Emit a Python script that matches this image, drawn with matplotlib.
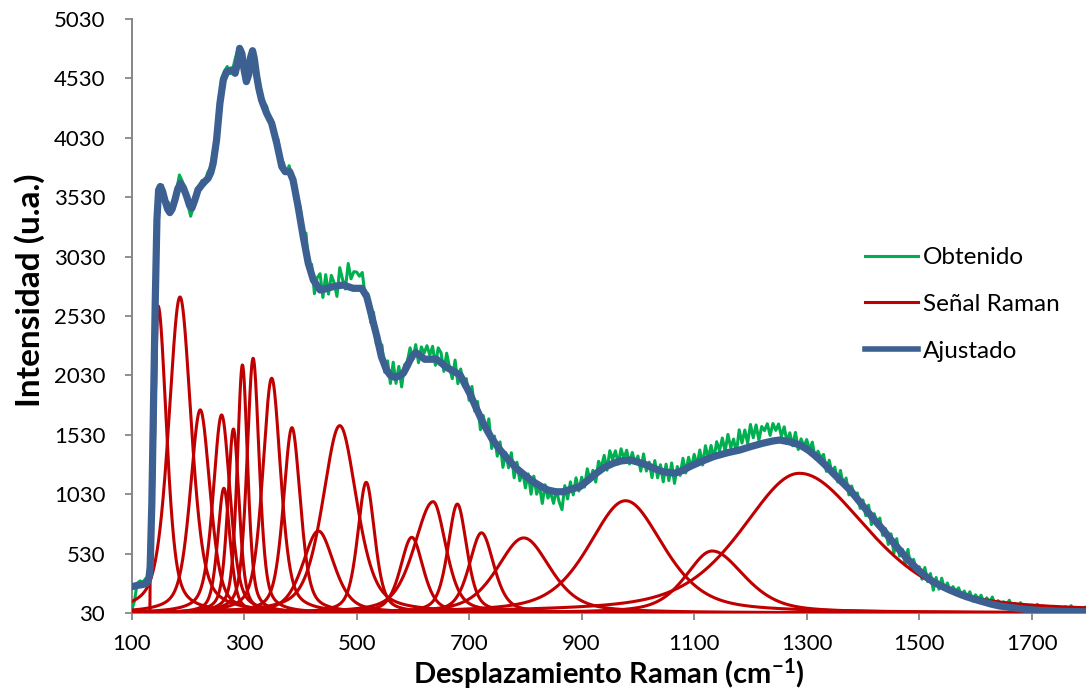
import numpy as np
import matplotlib
matplotlib.use("Agg")
import matplotlib.pyplot as plt
from matplotlib.lines import Line2D

plt.rcParams['font.family'] = ['Lato', 'DejaVu Sans']
plt.rcParams['mathtext.fontset'] = 'custom'
plt.rcParams['mathtext.rm'] = 'Lato:bold'
plt.rcParams['mathtext.it'] = 'Lato:bold'
plt.rcParams['mathtext.bf'] = 'Lato:bold'
plt.rcParams['mathtext.default'] = 'rm'

# ---------------- data ----------------
baseline = 30

# fitted spectrum (Ajustado)
fit_x = [100, 110, 120, 127, 131, 133, 136, 139, 142, 145, 148, 151, 155, 159, 164,
         168, 172, 177, 182, 187, 192, 198, 203, 207, 212, 218, 227, 236, 241, 245,
         251, 257, 263, 269, 278, 284, 288, 292, 296, 300, 304, 308, 311, 315, 318,
         322, 326, 331, 340, 349, 358, 367, 373, 381, 387, 396, 405, 414, 423, 435,
         446, 458, 476, 494, 509, 518, 527, 536, 544, 553, 560, 568, 576, 583, 590,
         595, 600, 605, 612, 621, 642, 660, 672, 684, 692, 701, 713, 725, 740, 755,
         770, 784, 800, 814, 826, 840, 855, 867, 880, 897, 912, 926, 940, 956, 970,
         986, 1000, 1015, 1030, 1045, 1065, 1080, 1092, 1110, 1134, 1160, 1181, 1200,
         1222, 1240, 1252, 1270, 1288, 1303, 1317, 1332, 1347, 1362, 1377, 1394, 1406,
         1420, 1436, 1450, 1465, 1480, 1495, 1510, 1524, 1540, 1554, 1570, 1584, 1600,
         1613, 1628, 1643, 1660, 1673, 1690, 1702, 1720, 1732, 1760, 1790, 1800]
fit_y = [251, 262, 270, 280, 330, 420, 960, 1800, 2640, 3340, 3590, 3620, 3580, 3507, 3430,
         3400, 3430, 3507, 3600, 3647, 3610, 3535, 3460, 3437, 3500, 3591, 3647, 3689, 3740, 3815,
         4012, 4321, 4517, 4587, 4601, 4573, 4650, 4783, 4740, 4600, 4503, 4560, 4700, 4763, 4700,
         4559, 4450, 4348, 4237, 4152, 3984, 3787, 3745, 3745, 3675, 3450, 3198, 2974, 2833, 2749,
         2760, 2777, 2791, 2763, 2763, 2693, 2524, 2356, 2188, 2076, 2030, 2014, 2025, 2048, 2110,
         2160, 2200, 2221, 2200, 2166, 2166, 2098, 2065, 2033, 1960, 1879, 1750, 1627, 1500, 1402,
         1320, 1248, 1185, 1135, 1100, 1065, 1050, 1051, 1070, 1093, 1150, 1206, 1255, 1290, 1310,
         1318, 1300, 1276, 1245, 1219, 1206, 1230, 1262, 1300, 1346, 1380, 1402, 1430,
         1459, 1478, 1486, 1470, 1444, 1400, 1346, 1280, 1206, 1135, 1065, 967, 897,
         815, 729, 645, 560, 480, 406, 345, 294, 255, 224, 192, 167, 143,
         125, 105, 89, 78, 70, 60, 55, 50, 47, 43, 41, 40]

# measured spectrum (Obtenido), sampled every 5 cm-1 from 100 to 1800
obs_x = np.arange(100, 1801, 5)
obs_y = [50, 130, 280, 300, 290, 320, 340, 700, 2300, 3300,
         3570, 3630, 3480, 3490, 3420, 3440, 3590, 3717, 3665, 3590,
         3470, 3370, 3450, 3600, 3620, 3670, 3635, 3735, 3780, 3895,
         4040, 4270, 4530, 4590, 4630, 4570, 4615, 4710, 4790, 4780,
         4630, 4490, 4690, 4740, 4670, 4540, 4410, 4320, 4297, 4185,
         4180, 4020, 4020, 3850, 3820, 3735, 3795, 3700, 3650, 3515,
         3442, 3147, 3228, 2926, 2965, 2718, 2853, 2886, 2686, 2878,
         2714, 2872, 2810, 2695, 2937, 2839, 2757, 2972, 2843, 2903,
         2900, 2865, 2896, 2706, 2718, 2475, 2562, 2292, 2311, 2284,
         2056, 2152, 1962, 2141, 1963, 2106, 1933, 2118, 2144, 2262,
         2166, 2289, 2137, 2270, 2217, 2280, 2200, 2275, 2115, 2262,
         2220, 2064, 2217, 2102, 2002, 2159, 1960, 2084, 1939, 2003,
         1820, 1937, 1729, 1810, 1573, 1693, 1551, 1664, 1415, 1519,
         1350, 1470, 1256, 1381, 1252, 1379, 1168, 1299, 1143, 1222,
         1083, 1201, 1030, 1182, 1030, 1100, 952, 1109, 997, 1043,
         953, 1067, 965, 900, 1102, 990, 1134, 1024, 1168, 1057,
         1173, 1090, 1244, 1143, 1231, 1132, 1307, 1257, 1357, 1232,
         1396, 1322, 1395, 1286, 1412, 1329, 1400, 1284, 1381, 1289,
         1351, 1224, 1369, 1225, 1300, 1170, 1313, 1168, 1278, 1134,
         1283, 1144, 1293, 1121, 1263, 1188, 1332, 1209, 1341, 1251,
         1365, 1273, 1402, 1276, 1438, 1329, 1440, 1329, 1472, 1394,
         1503, 1391, 1533, 1420, 1494, 1381, 1572, 1461, 1570, 1458,
         1617, 1505, 1613, 1484, 1600, 1565, 1623, 1525, 1625, 1567,
         1621, 1517, 1597, 1470, 1547, 1438, 1550, 1406, 1496, 1431,
         1490, 1402, 1468, 1329, 1392, 1336, 1365, 1222, 1316, 1206,
         1258, 1133, 1230, 1104, 1166, 1024, 1099, 1003, 1041, 911,
         981, 849, 938, 774, 866, 788, 829, 683, 741, 607,
         696, 532, 656, 509, 567, 439, 565, 404, 482, 389,
         420, 315, 413, 294, 362, 222, 329, 231, 323, 228,
         283, 212, 252, 212, 242, 173, 215, 167, 209, 131,
         183, 147, 180, 115, 158, 121, 165, 90, 134, 109,
         125, 92, 138, 85, 112, 59, 117, 84, 90, 58,
         96, 64, 103, 71, 90, 49, 78, 57, 86, 56,
         75, 54, 83, 43, 92, 52, 71, 36, 61, 80,
         60]

# Raman bands: centre, height above baseline, left/right half widths, onset
band_center = [147, 186, 222, 260, 281, 264, 297, 316, 349, 385, 470, 432, 517,
               598, 636, 679, 722, 797, 978, 1132, 1287]
band_height = [2585, 2660, 1710, 1667, 1549, 1050, 2088, 2144, 1976, 1560, 1577, 690, 1100,
               637, 937, 917, 675, 632, 945, 522, 1176]
band_hw_left = [7, 24, 21, 18, 12, 13, 11, 13, 19, 18, 36, 33, 18,
                24, 40, 20, 26, 56, 78, 56, 122]
band_hw_right = [18, 24, 21, 18, 12, 13, 11, 13, 19, 18, 36, 33, 18,
                 24, 27, 20, 26, 56, 80, 68, 145]
band_onset = [133] + [100] * 20
lorentz_fraction = 0.5

# ---------------- drawing ----------------
GREEN = '#00B050'
RED = '#C00000'
BLUE = '#3D6092'
AXIS_GREY = '#868686'


def band_profile(x, c, h, wl, wr, x0):
    w = np.where(x < c, wl, wr)
    u = ((x - c) / w) ** 2
    y = h * (lorentz_fraction / (1 + u) + (1 - lorentz_fraction) * np.exp(-np.log(2) * u))
    y = np.where(x < x0, 0.0, y)
    return baseline + y


fig = plt.figure(figsize=(10.86, 6.94), dpi=100)
ax = fig.add_axes([131.6 / 1086, (694 - 613) / 694, (1088 - 131.6) / 1086, (613 - 19) / 694])

ax.plot(obs_x, obs_y, color=GREEN, lw=2.2, zorder=2)

xs = np.arange(100, 1800.25, 0.5)
for c, h, wl, wr, x0 in zip(band_center, band_height, band_hw_left, band_hw_right, band_onset):
    ax.plot(xs, band_profile(xs, c, h, wl, wr, x0), color=RED, lw=2.2, zorder=3)

ax.plot(fit_x, fit_y, color=BLUE, lw=5.2, zorder=4, solid_joinstyle='round',
        solid_capstyle='round')

ax.set_xlim(100, 1800)
ax.set_ylim(30, 5030)
ax.set_xticks(range(100, 1701, 200))
ax.set_yticks(range(30, 5031, 500))

for side in ('top', 'right'):
    ax.spines[side].set_visible(False)
for side in ('left', 'bottom'):
    ax.spines[side].set_color(AXIS_GREY)
    ax.spines[side].set_linewidth(1.4)
    ax.spines[side].set_zorder(1)

ax.tick_params(axis='both', direction='out', length=5, width=1.3, color=AXIS_GREY,
               labelsize=16, labelcolor='black')
ax.tick_params(axis='y', pad=14)
ax.tick_params(axis='x', pad=10)

fig.text(30 / 1086, 1 - 290 / 694, 'Intensidad (u.a.)', rotation=90, ha='center', va='center',
         fontsize=24, fontweight='bold')
fig.text(609 / 1086, 1 - 674 / 694, 'Desplazamiento Raman (cm$^{-1}$)', ha='center',
         va='center', fontsize=21, fontweight='bold')

handles = [Line2D([], [], color=GREEN, lw=2.2),
           Line2D([], [], color=RED, lw=2.2),
           Line2D([], [], color=BLUE, lw=4.0)]
ax.legend(handles, ['Obtenido', 'Señal Raman', 'Ajustado'], loc='upper left',
          bbox_to_anchor=(865 / 1086, 1 - 247 / 694), bbox_transform=fig.transFigure,
          frameon=False, fontsize=17.5, handlelength=2.2, handletextpad=0.2,
          labelspacing=1.06, borderpad=0, borderaxespad=0)

fig.savefig('out.png', dpi=100)
